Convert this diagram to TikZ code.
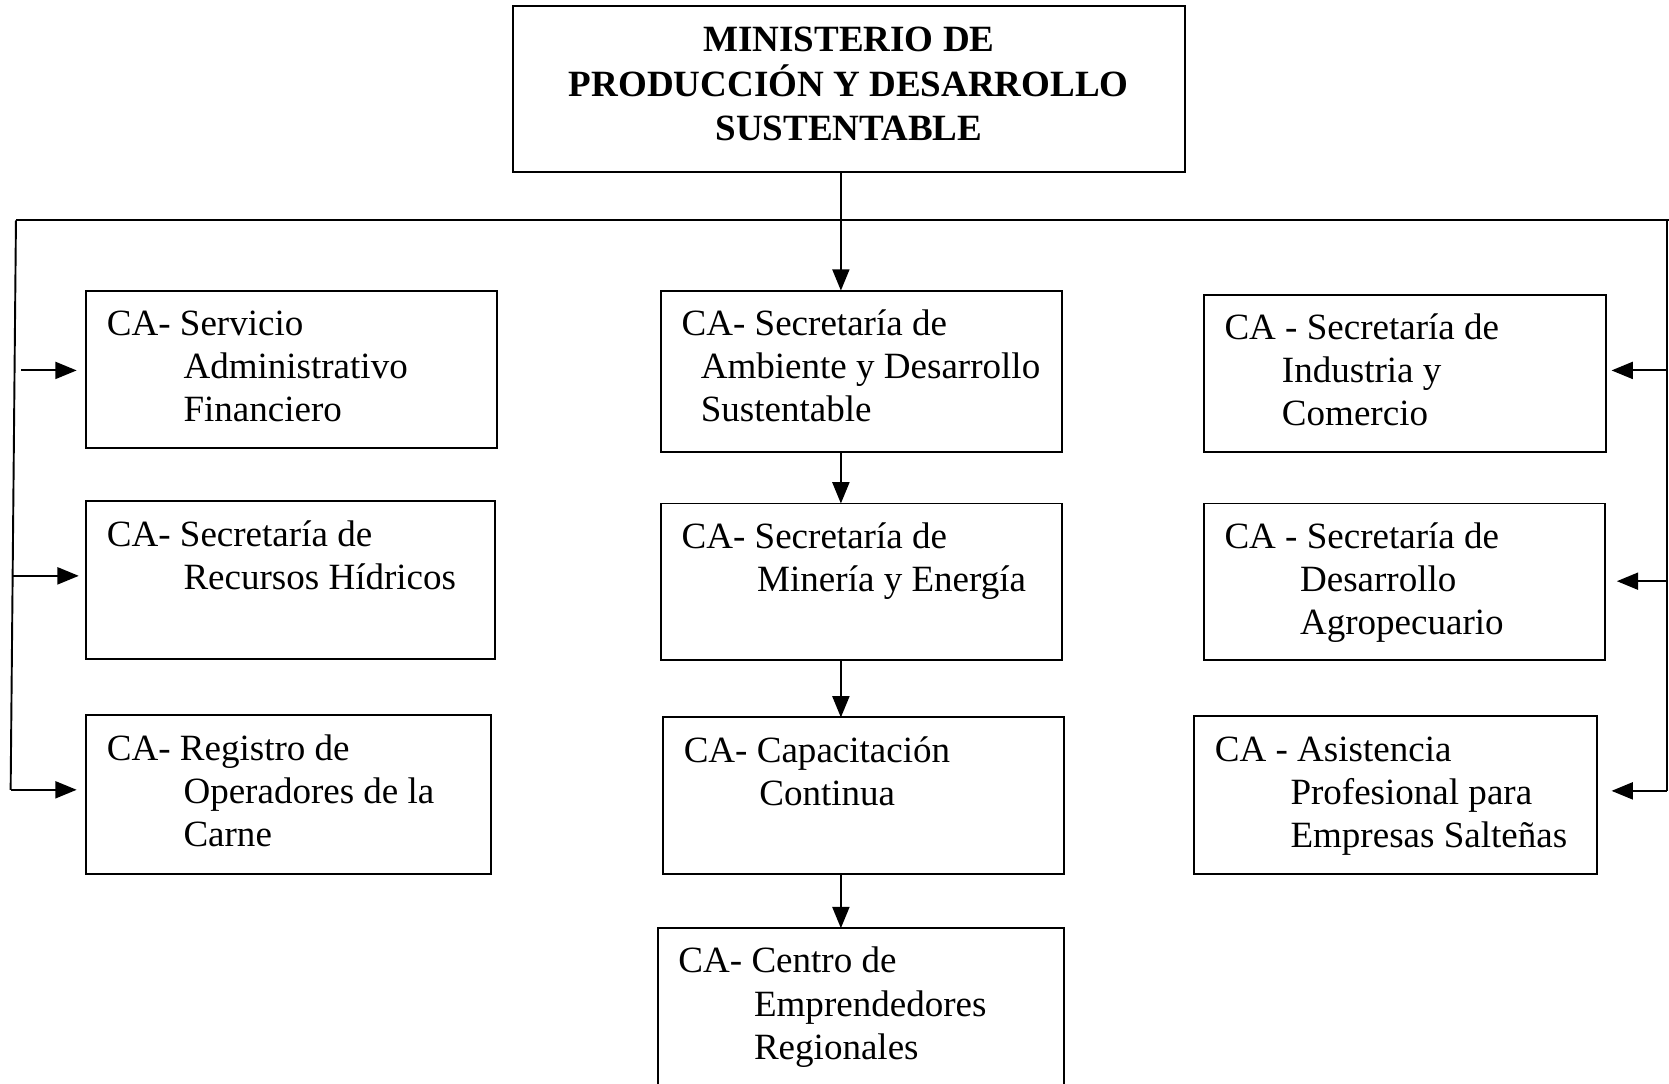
\documentclass[tikz,border=0pt]{standalone}
\usepackage{fontspec}
\setmainfont{Liberation Serif}
\usetikzlibrary{arrows.meta,calc}
\tikzset{
 box/.style={draw, line width=0.9pt, inner sep=0pt, outer sep=0pt, anchor=north west},
 txt/.style={anchor=base west, inner sep=0pt, font=\fontsize{17.4}{20.25}\selectfont},
 ttl/.style={anchor=base, inner sep=0pt, font=\fontsize{17.4}{20.5}\selectfont\bfseries},
 arr/.style={line width=0.9pt, -{Triangle[length=10pt,width=8pt]}},
 ln/.style={line width=0.9pt},
}
\newcommand\mybox[5]{\node[box, minimum width={(#4-#2)*0.5pt}, minimum height={(#5-#3)*0.5pt}] (#1) at (#2,#3) {};}
\newcommand\lns[1]{\begin{tabular}[t]{@{}l@{}}#1\end{tabular}}
\begin{document}
\begin{tikzpicture}[x=0.5pt,y=-0.5pt]
\useasboundingbox (0,0) rectangle (1568,1018);
% boxes
\mybox{top}{482}{6}{1113}{162}
\mybox{B1}{81}{273}{467}{421}
\mybox{B2}{81}{471}{465}{619}
\mybox{B3}{81}{672}{461}{821}
\mybox{M1}{621}{273}{998}{425}
\mybox{M2}{621}{473}{998}{620}
\mybox{M3}{623}{674}{1000}{821}
\mybox{M4}{618}{872}{1000}{1040}
\mybox{R1}{1131}{277}{1509}{425}
\mybox{R2}{1131}{473}{1508}{620}
\mybox{R3}{1122}{673}{1500}{821}
% title
\node[ttl] (ttl) at (797.5,48.5) {\begin{tabular}[t]{@{}c@{}}MINISTERIO DE\\PRODUCCIÓN Y DESARROLLO\\SUSTENTABLE\end{tabular}};
% texts
\node[txt] (tB1) at ($(B1.north west)+(19,42)$) {\lns{CA- Servicio\\\hspace*{36pt}Administrativo\\\hspace*{36pt}Financiero}};
\node[txt] (tB2) at ($(B2.north west)+(19,42)$) {\lns{CA- Secretaría de\\\hspace*{36pt}Recursos Hídricos}};
\node[txt] (tB3) at ($(B3.north west)+(19,42)$) {\lns{CA- Registro de\\\hspace*{36pt}Operadores de la\\\hspace*{36pt}Carne}};
\node[txt] (tM1) at ($(M1.north west)+(19,42)$) {\lns{CA- Secretaría de\\\hspace*{9pt}Ambiente y Desarrollo\\\hspace*{9pt}Sustentable}};
\node[txt] (tM2) at ($(M2.north west)+(19,42)$) {\lns{CA- Secretaría de\\\hspace*{35.5pt}Minería y Energía}};
\node[txt] (tM3) at ($(M3.north west)+(19,42)$) {\lns{CA- Capacitación\\\hspace*{35.5pt}Continua}};
\node[txt] (tM4) at ($(M4.north west)+(19,42)$) {\lns{CA- Centro de\\\hspace*{35.5pt}Emprendedores\\\hspace*{35.5pt}Regionales}};
\node[txt] (tR1) at ($(R1.north west)+(19,42)$) {\lns{CA - Secretaría de\\\hspace*{27pt}Industria y\\\hspace*{27pt}Comercio}};
\node[txt] (tR2) at ($(R2.north west)+(19,42)$) {\lns{CA - Secretaría de\\\hspace*{35.5pt}Desarrollo\\\hspace*{35.5pt}Agropecuario}};
\node[txt] (tR3) at ($(R3.north west)+(19,42)$) {\lns{CA - Asistencia\\\hspace*{35.5pt}Profesional para\\\hspace*{35.5pt}Empresas Salteñas}};
% central chain
\coordinate (cx) at (790,0);
\draw[arr] (top.south -| cx) -- (M1.north -| cx);
\draw[arr] (M1.south -| cx) -- (M2.north -| cx);
\draw[arr] (M2.south -| cx) -- (M3.north -| cx);
\draw[arr] (M3.south -| cx) -- (M4.north -| cx);
% bus
\coordinate (busL) at (15,207);
\coordinate (busR) at (1570,207);
\coordinate (rTop) at (1566,207);
\coordinate (rBot) at (1566,743);
\coordinate (lBot) at (10,742);
\draw[ln] (busL) -- (busR);
\draw[ln] (busL) -- (lBot);
\draw[ln] (rTop) -- (rBot);
% left arrows
\coordinate (la1) at (20,348);
\coordinate (la2) at (12,541);
\draw[arr, shorten >=4.5pt] (la1) -- (la1 -| B1.west);
\draw[arr, shorten >=3.5pt] (la2) -- (la2 -| B2.west);
\draw[arr, shorten >=4.5pt] (lBot) -- (lBot -| B3.west);
% right arrows
\coordinate (ra1) at (1566,348);
\coordinate (ra2) at (1566,546);
\draw[arr, shorten >=2.5pt] (ra1) -- (ra1 -| R1.east);
\draw[arr, shorten >=5.5pt] (ra2) -- (ra2 -| R2.east);
\draw[arr, shorten >=7pt] (rBot) -- (rBot -| R3.east);
\end{tikzpicture}
\end{document}
